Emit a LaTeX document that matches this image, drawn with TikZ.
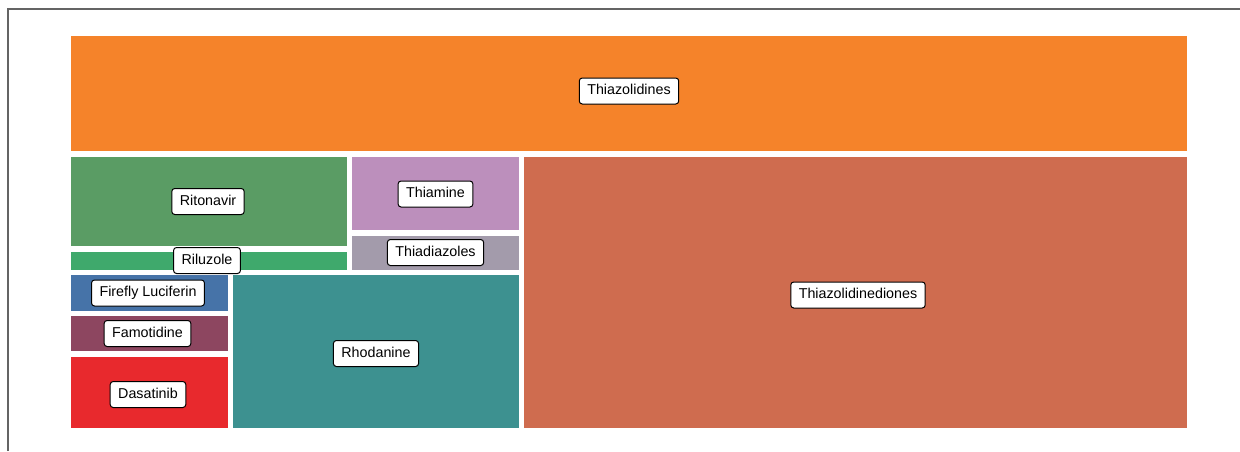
\documentclass[tikz,border=0pt]{standalone}
\usepackage{fontspec}
\setmainfont{Liberation Sans}
\definecolor{cThiazolidines}{RGB}{245,131,42}
\definecolor{cRitonavir}{RGB}{90,156,100}
\definecolor{cRiluzole}{RGB}{63,169,108}
\definecolor{cThiamine}{RGB}{188,143,188}
\definecolor{cThiadiazoles}{RGB}{163,155,171}
\definecolor{cThiazolidinediones}{RGB}{207,108,79}
\definecolor{cFirefly}{RGB}{70,115,168}
\definecolor{cFamotidine}{RGB}{141,70,96}
\definecolor{cDasatinib}{RGB}{232,41,45}
\definecolor{cRhodanine}{RGB}{61,145,144}
\definecolor{frameline}{RGB}{100,100,100}
\tikzset{
  tile/.style={fill=#1},
  tag/.style={draw=black, fill=white, rounded corners=3pt, line width=1pt,
    inner xsep=8pt, inner ysep=6pt, text height=10.5pt, text depth=3.5pt,
    font=\fontsize{14.3}{17}\selectfont}
}
\begin{document}
\begin{tikzpicture}[x=1pt,y=-1pt]
\useasboundingbox (0,0) rectangle (1240,451);
% outer frame (top and left edges)
\draw[frameline, line width=1.5pt] (8,451) -- (8,9) -- (1240,9);
% tiles
\fill[tile=cThiazolidines] (71,36) rectangle (1187,151);
\fill[tile=cRitonavir] (71,157) rectangle (347,246);
\fill[tile=cRiluzole] (71,252) rectangle (347,270);
\fill[tile=cThiamine] (352,157) rectangle (519,230);
\fill[tile=cThiadiazoles] (352,236) rectangle (519,270);
\fill[tile=cThiazolidinediones] (524,157) rectangle (1187,428);
\fill[tile=cFirefly] (71,275) rectangle (228,311);
\fill[tile=cFamotidine] (71,316) rectangle (228,351);
\fill[tile=cDasatinib] (71,357) rectangle (228,428);
\fill[tile=cRhodanine] (233,275) rectangle (519,428);
% labels
\node[tag] (thiazolidines) at (629,91) {Thiazolidines};
\node[tag] (ritonavir) at (208,201.5) {Ritonavir};
\node[tag] (riluzole) at (207,260.5) {Riluzole};
\node[tag] (thiamine) at (435.5,194) {Thiamine};
\node[tag] (thiadiazoles) at (435.5,252.5) {Thiadiazoles};
\node[tag] (thiazolidinediones) at (858,295) {Thiazolidinediones};
\node[tag] (firefly) at (148,293) {Firefly Luciferin};
\node[tag] (famotidine) at (147.5,333.5) {Famotidine};
\node[tag] (dasatinib) at (148,394.5) {Dasatinib};
\node[tag] (rhodanine) at (376,353.5) {Rhodanine};
\end{tikzpicture}
\end{document}
